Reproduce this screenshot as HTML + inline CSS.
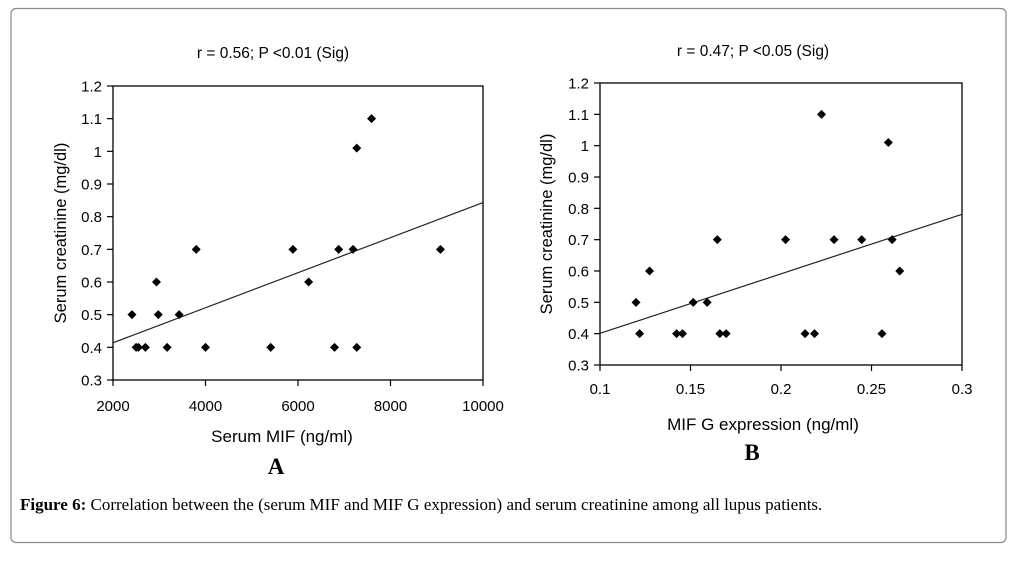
<!DOCTYPE html>
<html><head><meta charset="utf-8"><style>
body{margin:0;background:#fff;}
svg{display:block;font-family:"Liberation Sans",sans-serif;}
</style></head><body>
<svg id="fig" width="1019" height="561">
<rect x="11" y="8.5" width="995" height="534" rx="5" fill="#fff" stroke="#888" stroke-width="1.2"/>
<g id="chartA"></g>
<g id="chartB"></g>
<text x="276" y="474" font-family="Liberation Serif,serif" font-weight="bold" font-size="23" text-anchor="middle">A</text>
<text x="752" y="460" font-family="Liberation Serif,serif" font-weight="bold" font-size="23" text-anchor="middle">B</text>
<text x="20" y="510" font-family="Liberation Serif,serif" font-size="17"><tspan font-weight="bold">Figure 6:</tspan> Correlation between the (serum MIF and MIF G expression) and serum creatinine among all lupus patients.</text>
</svg>
<script>
const aX=[2410,2500,2550,2700,2940,2980,3170,3430,3800,4000,5410,5890,6230,6790,6880,7190,7270,7270,7590,9080];
const aY=[0.5,0.4,0.4,0.4,0.6,0.5,0.4,0.5,0.7,0.4,0.4,0.7,0.6,0.4,0.7,0.7,1.01,0.4,1.1,0.7];
const aTrend=[[2000,0.414],[10000,0.843]];
const aXTicks=[2000,4000,6000,8000,10000];
const bX=[0.1199,0.1219,0.1274,0.1423,0.1456,0.1515,0.1592,0.1648,0.1662,0.1697,0.2025,0.2133,0.2185,0.2224,0.2293,0.2446,0.2558,0.2593,0.2614,0.2656];
const bY=[0.5,0.4,0.6,0.4,0.4,0.5,0.5,0.7,0.4,0.4,0.7,0.4,0.4,1.1,0.7,0.7,0.4,1.01,0.7,0.6];
const bTrend=[[0.1,0.401],[0.3,0.781]];
const bXTicks=[0.1,0.15,0.2,0.25,0.3];
const yTicks=[0.3,0.4,0.5,0.6,0.7,0.8,0.9,1,1.1,1.2];
const NS='http://www.w3.org/2000/svg';
function mk(p,t,a,txt){const e=document.createElementNS(NS,t);for(const k in a)e.setAttribute(k,a[k]);if(txt!==undefined)e.textContent=txt;p.appendChild(e);return e;}
function draw(g,c){
 const sx=v=>c.x0+(v-c.xmin)/(c.xmax-c.xmin)*(c.x1-c.x0);
 const sy=v=>c.y1-(v-0.3)/(0.9)*(c.y1-c.y0);
 let e=mk(g,'text',{x:(c.x0+c.x1)/2+c.tdx,y:c.ty,'font-size':15.5,'text-anchor':'middle'},c.title);
 
 
 e=mk(g,'rect',{x:c.x0,y:c.y0,width:c.x1-c.x0,height:c.y1-c.y0,fill:'none',stroke:'#000','stroke-width':1.3});
 
 
 yTicks.forEach(t=>{
  mk(g,'line',{x1:c.x0-6,x2:c.x0,y1:sy(t),y2:sy(t),stroke:'#000','stroke-width':1.2});
  e=mk(g,'text',{x:c.x0-11,y:sy(t)+5.5,'font-size':15,'text-anchor':'end'},String(t));
  
  
 });
 c.xt.forEach(t=>{
  mk(g,'line',{x1:sx(t),x2:sx(t),y1:c.y1,y2:c.y1+6,stroke:'#000','stroke-width':1.2});
  e=mk(g,'text',{x:sx(t),y:c.y1+c.xtl,'font-size':15,'text-anchor':'middle'},String(t));
  
  
 });
 e=mk(g,'line',{x1:sx(c.tr[0][0]),y1:sy(c.tr[0][1]),x2:sx(c.tr[1][0]),y2:sy(c.tr[1][1]),stroke:'#222','stroke-width':1.2});
 
 
 c.xs.forEach((v,i)=>{
  const px=sx(v),py=sy(c.ys[i]);
  e=mk(g,'path',{d:`M${px} ${py-4.5}L${px+4.5} ${py}L${px} ${py+4.5}L${px-4.5} ${py}Z`,fill:'#000'});
  
  
 });
 e=mk(g,'text',{x:c.yx,y:(c.y0+c.y1)/2,'font-size':16.5,'text-anchor':'middle',transform:`rotate(-90 ${c.yx} ${(c.y0+c.y1)/2})`},'Serum creatinine (mg/dl)');
 
 
 e=mk(g,'text',{x:c.xtx,y:c.xty,'font-size':17,'text-anchor':'middle'},c.xtitle);
 
 
}
draw(document.getElementById('chartA'),{x0:113,x1:483,y0:86,y1:380,xmin:2000,xmax:10000,xt:aXTicks,xs:aX,ys:aY,tr:aTrend,title:'r = 0.56; P <0.01 (Sig)',ty:58,tdx:-25,xtl:31,yx:66,xtitle:'Serum MIF (ng/ml)',xtx:282,xty:442});
draw(document.getElementById('chartB'),{x0:600,x1:962,y0:83,y1:365,xmin:0.1,xmax:0.3,xt:bXTicks,xs:bX,ys:bY,tr:bTrend,title:'r = 0.47; P <0.05 (Sig)',ty:56,tdx:-28,xtl:29,yx:552,xtitle:'MIF G expression (ng/ml)',xtx:763,xty:430});
</script>
</body></html>
